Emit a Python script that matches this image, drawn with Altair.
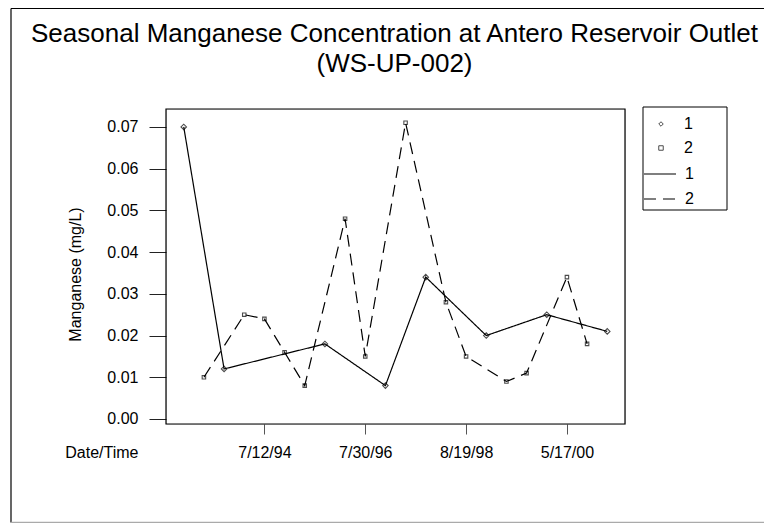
import altair as alt
import pandas as pd

# ---- data ----
series_names = ["1", "2"]
s1_idx = [1, 3, 8, 11, 13, 16, 19, 22]
s1_val = [0.070, 0.012, 0.018, 0.008, 0.034, 0.020, 0.025, 0.021]
s2_idx = [2, 4, 5, 6, 7, 9, 10, 12, 14, 15, 17, 18, 20, 21]
s2_val = [0.010, 0.025, 0.024, 0.016, 0.008, 0.048, 0.015, 0.071,
          0.028, 0.015, 0.009, 0.011, 0.034, 0.018]
tick_idx = [5, 10, 15, 20]
tick_labels = ["7/12/94", "7/30/96", "8/19/98", "5/17/00"]
y_ticks = [0.00, 0.01, 0.02, 0.03, 0.04, 0.05, 0.06, 0.07]
title_lines = ["Seasonal Manganese Concentration at Antero Reservoir Outlet", "(WS-UP-002)"]

# symbol legend keys use "P<name>", line legend keys "L<name>" so the two legends stay separate
rows = []
for name, idxs, vals in [(series_names[0], s1_idx, s1_val), (series_names[1], s2_idx, s2_val)]:
    for i, v in zip(idxs, vals):
        rows.append({"idx": i, "val": v, "pt": "P" + name, "ln": "L" + name, "sz": "S" + name})
df = pd.DataFrame(rows)
pt_domain = ["P" + s for s in series_names]
ln_domain = ["L" + s for s in series_names]
sz_domain = ["S" + s for s in series_names]

label_expr = " : ".join(
    f"datum.value == {i} ? '{t}'" for i, t in zip(tick_idx, tick_labels)
) + " : ''"

FONT = "Liberation Sans"
W, H = 459, 315

x_enc = alt.X(
    "idx:Q",
    scale=alt.Scale(domain=[0.12, 22.88], nice=False, zero=False),
    axis=alt.Axis(
        values=tick_idx, labelExpr=label_expr, title="Date/Time",
        domain=False, grid=False, tickSize=10, tickColor="#555555",
        labelPadding=10, labelFontSize=16, labelFont=FONT, labelColor="black",
        titleFont=FONT, titleFontSize=16, titleFontWeight="normal", titleColor="black",
        titleX=-28, titleY=33, titleAlign="right", titleBaseline="alphabetic", titleAngle=0,
        labelFlush=False, labelOverlap=False,
    ),
)
y_enc = alt.Y(
    "val:Q",
    scale=alt.Scale(domain=[-0.0012, 0.0743], nice=False, zero=False),
    axis=alt.Axis(
        values=y_ticks, format=".2f", title="Manganese (mg/L)",
        domain=False, grid=False, tickSize=17, tickColor="#222222",
        labelPadding=11, labelFontSize=16, labelFont=FONT, labelColor="black",
        titleFont=FONT, titleFontSize=16, titleFontWeight="normal", titleColor="black",
        titlePadding=23, titleY=165, labelFlush=False,
    ),
)

lines = alt.Chart(df).mark_line(color="black", strokeWidth=1.2).encode(
    x=x_enc, y=y_enc,
    strokeDash=alt.StrokeDash(
        "ln:N",
        scale=alt.Scale(domain=ln_domain, range=[[1, 0], [12, 7]]),
        legend=alt.Legend(
            title=None, orient="none", legendX=477, legendY=48,
            symbolType="stroke", symbolSize=1024, symbolStrokeColor="black",
            symbolStrokeWidth=1.2, labelFont=FONT, labelFontSize=16,
            labelColor="black", labelOffset=8, rowPadding=-8, padding=0,
            labelExpr="substring(datum.label, 1)",
        ),
    ),
    order="idx:Q",
)

points = alt.Chart(df).mark_point(filled=False, color="black", strokeWidth=1.1).encode(
    x="idx:Q", y="val:Q",
    shape=alt.Shape(
        "pt:N",
        scale=alt.Scale(domain=pt_domain, range=["diamond", "square"]),
        legend=alt.Legend(
            title=None, orient="none", legendX=487, legendY=7,
            symbolSize=20, symbolStrokeColor="black", symbolFillColor="white",
            symbolStrokeWidth=1, labelFont=FONT, labelFontSize=16,
            labelColor="black", labelOffset=15, rowPadding=8, padding=0,
            labelExpr="substring(datum.label, 1)",
        ),
    ),
    size=alt.Size("sz:N", scale=alt.Scale(domain=sz_domain, range=[30, 12]), legend=None),
)

one = pd.DataFrame({"k": [0]})

frame = alt.Chart(one).mark_rect(fill=None, stroke="black", strokeWidth=1.2).encode(
    x=alt.value(0), x2=alt.value(W), y=alt.value(0), y2=alt.value(H)
)
legend_box = alt.Chart(one).mark_rect(fill=None, stroke="black", strokeWidth=1).encode(
    x=alt.value(477), x2=alt.value(561), y=alt.value(-2), y2=alt.value(101)
)
outer_left = alt.Chart(one).mark_rule(color="black", strokeWidth=1.2).encode(
    x=alt.value(-155), y=alt.value(-100.5), y2=alt.value(413.5)
)
outer_top = alt.Chart(one).mark_rule(color="black", strokeWidth=1.2).encode(
    x=alt.value(-155), x2=alt.value(W + 139), y=alt.value(-100.5)
)
outer_bottom = alt.Chart(one).mark_rule(color="#aaaaaa", strokeWidth=1.5).encode(
    x=alt.value(-155), x2=alt.value(W + 139), y=alt.value(413.5)
)
title_text = alt.Chart(one).mark_text(
    font=FONT, fontSize=26, color="black", align="center",
    baseline="alphabetic", lineHeight=30,
).encode(
    x=alt.value(W / 2 - 1), y=alt.value(-67), text=alt.value(title_lines)
)

chart = alt.layer(
    outer_left, outer_top, outer_bottom, legend_box, lines, points, frame, title_text
).properties(
    width=W, height=H,
    autosize=alt.AutoSizeParams(type="none"),
    padding={"left": 158, "top": 101, "right": 139, "bottom": 99},
).configure_view(stroke=None).configure(background="white")

chart.save("out.html", embed_options={"renderer": "svg", "actions": False})
